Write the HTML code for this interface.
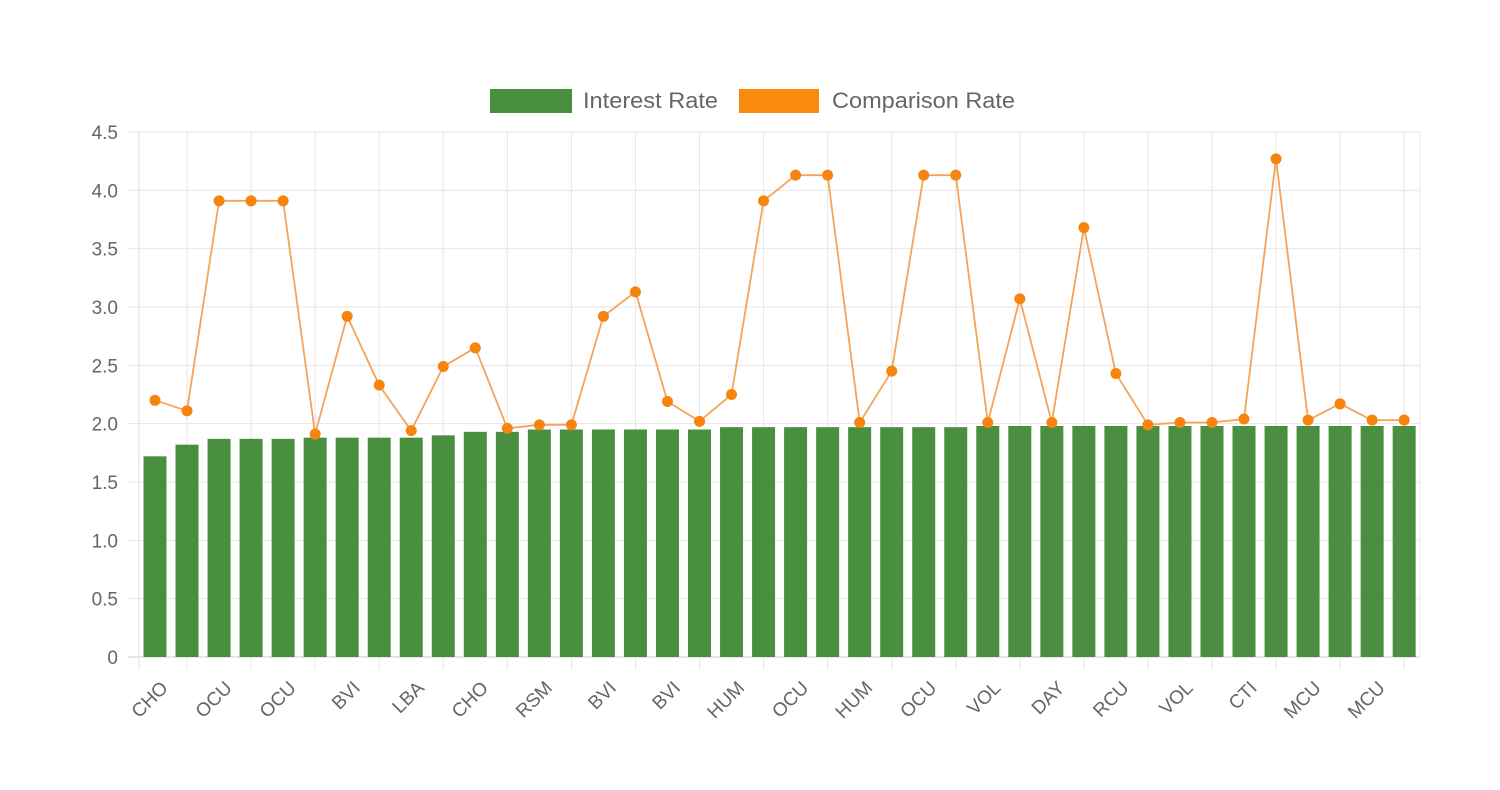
<!DOCTYPE html>
<html><head><meta charset="utf-8"><style>
html,body{margin:0;padding:0;background:#fff;}
svg{display:block;font-family:"Liberation Sans",Arial,sans-serif;}
</style></head><body>
<svg id="c" width="1500" height="790" xmlns="http://www.w3.org/2000/svg">
<rect x="490" y="89" width="82" height="24" fill="#4a8f40"/>
<text x="583" y="108" font-size="22" fill="#666" textLength="135" lengthAdjust="spacingAndGlyphs">Interest Rate</text>
<rect x="739" y="89" width="80" height="24" fill="#f98a0e"/>
<text x="832" y="108" font-size="22" fill="#666" textLength="183" lengthAdjust="spacingAndGlyphs">Comparison Rate</text>
<g id="g"></g>
</svg>
<script>
var ns="http://www.w3.org/2000/svg",g=document.getElementById('g');
function el(t,a,txt){var e=document.createElementNS(ns,t);for(var k in a)e.setAttribute(k,a[k]);if(txt!=null)e.textContent=txt;g.appendChild(e);return e;}
var L=139,R=1420,Y0=657,U=116.67,step=32.03,c0=155;
function Y(v){return Y0-v*U;}
for(var i=0;i<=9;i++){var v=i*0.5,y=Y(v);
 el('line',{x1:128,x2:R,y1:y,y2:y,stroke:i==0?'#ccc':'#e6e6e6','stroke-width':1});
 el('text',{x:118,y:y+7,'font-size':19,fill:'#666','text-anchor':'end'},i==0?'0':v.toFixed(1));}
el('line',{x1:L,x2:L,y1:132,y2:670,stroke:'#ddd'});
for(var i=1;i<40;i+=2){var x=c0+step*i;el('line',{x1:x,x2:x,y1:132,y2:670,stroke:'#e6e6e6'});}
el('line',{x1:R,x2:R,y1:132,y2:657,stroke:'#eee'});
var bars=[1.72,1.82,1.87,1.87,1.87,1.88,1.88,1.88,1.88,1.9,1.93,1.93,1.95,1.95,1.95,1.95,1.95,1.95,1.97,1.97,1.97,1.97,1.97,1.97,1.97,1.97,1.98,1.98,1.98,1.98,1.98,1.98,1.98,1.98,1.98,1.98,1.98,1.98,1.98,1.98];
var cmp=[2.20,2.11,3.91,3.91,3.91,1.91,2.92,2.33,1.94,2.49,2.65,1.96,1.99,1.99,2.92,3.13,2.19,2.02,2.25,3.91,4.13,4.13,2.01,2.45,4.13,4.13,2.01,3.07,2.01,3.68,2.43,1.99,2.01,2.01,2.04,4.27,2.03,2.17,2.03,2.03];
for(var i=0;i<40;i++){var x=c0+step*i;el('rect',{x:x-11.5,y:Y(bars[i]),width:23,height:bars[i]*U,fill:'#4a8f40'});}
var p='';for(var i=0;i<40;i++){p+=(i?'L':'M')+(c0+step*i).toFixed(1)+' '+Y(cmp[i]).toFixed(1);}
el('path',{d:p,fill:'none',stroke:'#f5a35a','stroke-width':1.8});
for(var i=0;i<40;i++)el('circle',{cx:c0+step*i,cy:Y(cmp[i]),r:5.5,fill:'#f5850f'});
var labs=['CHO','OCU','OCU','BVI','LBA','CHO','RSM','BVI','BVI','HUM','OCU','HUM','OCU','VOL','DAY','RCU','VOL','CTI','MCU','MCU'];
for(var k=0;k<20;k++){var x=c0+step*2*k+14,y=689;
 el('text',{x:x,y:y,'font-size':19,fill:'#666','text-anchor':'end',transform:'rotate(-45 '+x+' '+y+')'},labs[k]);}
</script>
</body></html>
